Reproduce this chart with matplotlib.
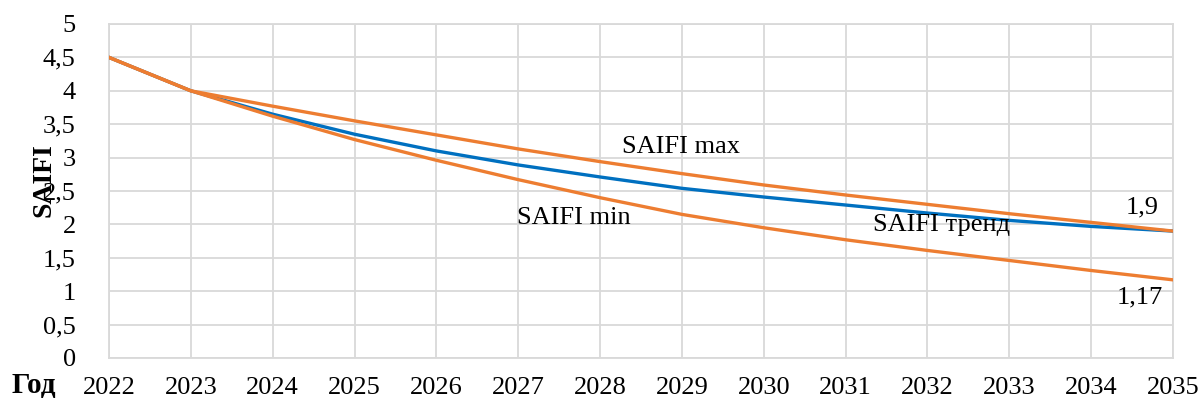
import matplotlib
matplotlib.use("Agg")
import matplotlib.pyplot as plt
from matplotlib.ticker import FuncFormatter

years = [2022, 2023, 2024, 2025, 2026, 2027, 2028, 2029, 2030, 2031, 2032, 2033, 2034, 2035]
saifi_max = [4.5, 4.0, 3.77, 3.55, 3.34, 3.13, 2.94, 2.76, 2.59, 2.44, 2.30, 2.16, 2.03, 1.90]
saifi_trend = [4.5, 4.0, 3.65, 3.35, 3.10, 2.89, 2.71, 2.54, 2.41, 2.29, 2.17, 2.06, 1.97, 1.90]
saifi_min = [4.5, 4.0, 3.62, 3.27, 2.96, 2.67, 2.40, 2.15, 1.95, 1.77, 1.61, 1.46, 1.31, 1.17]
y_ticks = [0, 0.5, 1, 1.5, 2, 2.5, 3, 3.5, 4, 4.5, 5]

plt.rcParams['font.family'] = ['Liberation Serif', 'DejaVu Serif']

fig = plt.figure(figsize=(12, 4), dpi=100)
ax = fig.add_axes([0.0908, 0.105, 0.8867, 0.835])

orange = '#ED7D31'
blue = '#0070C0'
ax.plot(years, saifi_trend, color=blue, lw=2.4, zorder=3)
ax.plot(years, saifi_max, color=orange, lw=2.4, zorder=4)
ax.plot(years, saifi_min, color=orange, lw=2.4, zorder=4)

fs = 19
ax.set_xlim(years[0], years[-1])
ax.set_ylim(0, 5)
ax.set_xticks(years)
ax.set_yticks(y_ticks)
ax.yaxis.set_major_formatter(FuncFormatter(lambda v, p: (f"{v:g}").replace('.', ',')))
ax.tick_params(axis='both', length=0, labelsize=fs)
ax.tick_params(axis='y', pad=24)
ax.tick_params(axis='x', pad=14)
ax.grid(True, color='#d9d9d9', lw=1.3)
ax.set_axisbelow(True)
for s in ax.spines.values():
    s.set_color('#d9d9d9')
    s.set_linewidth(1.3)

ax.text(2028.27, 3.16, 'SAIFI max', fontsize=fs, ha='left', va='center')
ax.text(2026.98, 2.10, 'SAIFI min', fontsize=fs, ha='left', va='center')
ax.text(2031.33, 1.99, 'SAIFI тренд', fontsize=fs, ha='left', va='center')
ax.text(2034.82, 2.25, '1,9', fontsize=fs, ha='right', va='center')
ax.text(2034.88, 0.90, '1,17', fontsize=fs, ha='right', va='center')

fig.text(44 / 1200, 1 - 180 / 400, 'SAIFI', fontsize=20, fontweight='bold',
         rotation=90, ha='center', va='center')
fig.text(12 / 1200, 1 - 385 / 400, 'Год', fontsize=21, fontweight='bold',
         ha='left', va='center')

fig.savefig('out.png', dpi=100)
